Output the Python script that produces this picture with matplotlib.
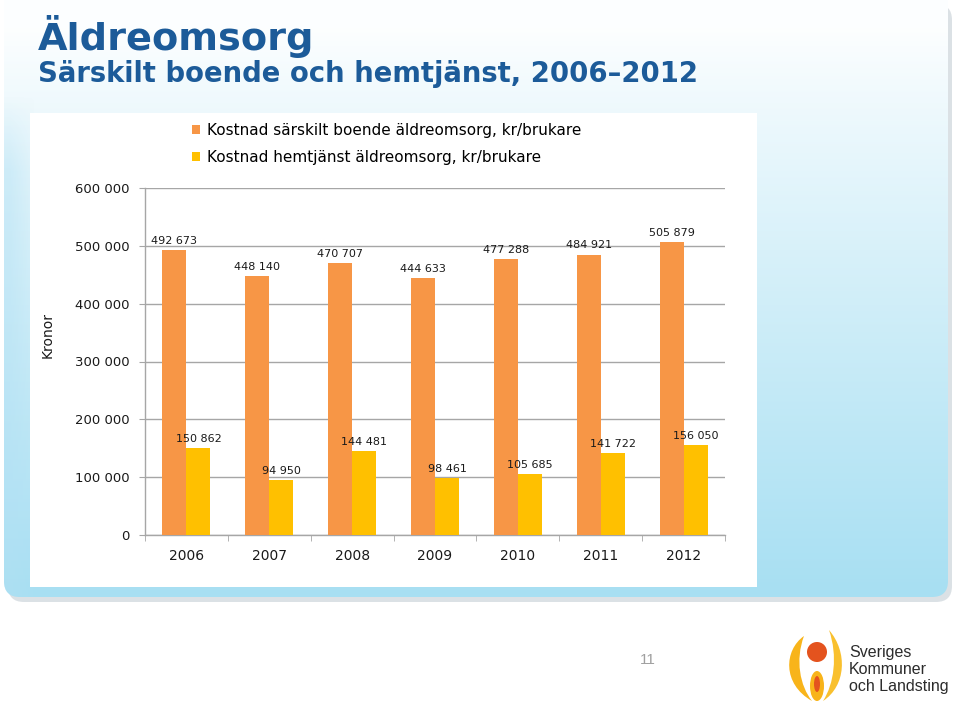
import numpy as np
import matplotlib
matplotlib.use("Agg")
import matplotlib.pyplot as plt
from matplotlib.patches import FancyBboxPatch, Rectangle, Circle, Ellipse, PathPatch
from matplotlib.path import Path
from matplotlib.ticker import FuncFormatter, MultipleLocator

years = ["2006", "2007", "2008", "2009", "2010", "2011", "2012"]
sarskilt = [492673, 448140, 470707, 444633, 477288, 484921, 505879]
hemtjanst = [150862, 94950, 144481, 98461, 105685, 141722, 156050]
series_names = ["Kostnad särskilt boende äldreomsorg, kr/brukare",
                "Kostnad hemtjänst äldreomsorg, kr/brukare"]
title = "Äldreomsorg"
subtitle = "Särskilt boende och hemtjänst, 2006–2012"
ylabel = "Kronor"
page_no = "11"
logo_lines = ["Sveriges", "Kommuner", "och Landsting"]

ORANGE = "#F79646"
YELLOW = "#FFC000"
BLUE_TITLE = "#1C5B99"
TXT = "#1a1a1a"
FONT = ["DejaVu Sans"]
LOGO_FONT = ["Liberation Sans", "DejaVu Sans"]

W, H = 960, 706
fig = plt.figure(figsize=(9.6, 7.06), dpi=100)
fig.patch.set_facecolor("white")

# ---------- background slide (pixel coordinates, y downward) ----------
bg = fig.add_axes([0, 0, 1, 1], zorder=0)
bg.set_xlim(0, W)
bg.set_ylim(H, 0)
bg.axis("off")
shadow = FancyBboxPatch((8, 4), 944, 598, boxstyle="round,pad=0,rounding_size=16",
                        facecolor="#cdd5db", edgecolor="none", alpha=0.7)
bg.add_patch(shadow)
panel = FancyBboxPatch((4, -20), 944, 617, boxstyle="round,pad=0,rounding_size=16",
                       facecolor="none", edgecolor="none")
bg.add_patch(panel)
ny = 300
t = np.linspace(0, 1, ny)[:, None]
top = np.array([0.99, 0.997, 1.0])
bot = np.array([0.655, 0.875, 0.95])
tt = np.clip((t - 0.08) / 0.92, 0, 1) ** 0.9
grad = top[None, None, :] * (1 - tt[..., None]) + bot[None, None, :] * tt[..., None]
grad = np.repeat(grad, 2, axis=1)
im = bg.imshow(grad, extent=(4, 948, 598, -20), aspect="auto", zorder=1)
im.set_clip_path(panel)
# extra tint on the left edge
nx, nyl = 40, 200
s = np.linspace(0, 1, nx)[None, :]
v = np.linspace(0, 1, nyl)[:, None]
left = np.zeros((nyl, nx, 4))
left[..., 0] = 0.70
left[..., 1] = 0.88
left[..., 2] = 0.96
left[..., 3] = np.clip(1.2 - s, 0, 1) * np.clip(v / 0.15, 0, 1) * 0.45
im2 = bg.imshow(left, extent=(4, 34, 598, 95), aspect="auto", zorder=1.5)
im2.set_clip_path(panel)
bg.add_patch(Rectangle((30, 113), 727, 474, facecolor="white", edgecolor="none", zorder=2))

# titles
bg.text(38, 50, title, fontsize=27.5, fontweight="bold", color=BLUE_TITLE,
        family=FONT, va="baseline", ha="left", zorder=3)
bg.text(38, 82, subtitle, fontsize=19.8, fontweight="bold", color=BLUE_TITLE,
        family=FONT, va="baseline", ha="left", zorder=3)

# page number
bg.text(648, 660, page_no, fontsize=11, color="#a0a0a0", family=LOGO_FONT,
        va="center", ha="center", zorder=3)

# logo
LY = "#F8B41A"
def flame(pts, color, z=3):
    codes = [Path.MOVETO, Path.CURVE4, Path.CURVE4, Path.CURVE4,
             Path.CURVE4, Path.CURVE4, Path.CURVE4, Path.CLOSEPOLY]
    bg.add_patch(PathPatch(Path(pts + [pts[0]], codes), facecolor=color,
                           edgecolor="none", zorder=z))
flame([(804, 636), (784, 650), (782, 684), (812, 701),
       (800, 686), (795, 660), (804, 636)], LY)
flame([(829, 630), (848, 652), (846, 686), (823, 701),
       (834, 684), (838, 656), (829, 630)], "#F9C02E")
bg.add_patch(Ellipse((817, 686), 14, 30, facecolor=LY, edgecolor="none", zorder=3))
bg.add_patch(Circle((817, 652), 10, facecolor="#E4531E", edgecolor="none", zorder=4))
bg.add_patch(Ellipse((817, 684), 6, 16, facecolor="#E4531E", edgecolor="none", zorder=4))
for i, line in enumerate(logo_lines):
    bg.text(849, 652 + i * 17.5, line, fontsize=11.5, color="#2b2b2b",
            family=LOGO_FONT, va="center", ha="left", zorder=3)

# ---------- chart ----------
x0, x1 = 145, 725
y0, y1 = 535, 188
ax = fig.add_axes([x0 / W, 1 - y0 / H, (x1 - x0) / W, (y0 - y1) / H], zorder=5)
ax.set_facecolor("none")
x = np.arange(len(years))
bw = 0.29
ax.bar(x - bw / 2, sarskilt, width=bw, color=ORANGE, zorder=3, label=series_names[0])
ax.bar(x + bw / 2, hemtjanst, width=bw, color=YELLOW, zorder=3, label=series_names[1])

fmt = lambda val: f"{int(val):,}".replace(",", " ")
for xi, val in zip(x, sarskilt):
    ax.annotate(fmt(val), (xi - bw / 2, val), xytext=(0, 4.5), textcoords="offset points",
                ha="center", va="baseline", fontsize=8, family=FONT, color=TXT)
for xi, val in zip(x, hemtjanst):
    ax.annotate(fmt(val), (xi + bw / 2, val), xytext=(0, 4.5), textcoords="offset points",
                ha="center", va="baseline", fontsize=8, family=FONT, color=TXT)

ax.set_xlim(-0.5, len(years) - 0.5)
ax.set_ylim(0, 600000)
ax.yaxis.set_major_locator(MultipleLocator(100000))
ax.yaxis.set_major_formatter(FuncFormatter(lambda val, p: fmt(val)))
ax.grid(axis="y", color="#a6a6a6", linewidth=1, zorder=0)
ax.set_axisbelow(True)
ax.set_xticks(x)
ax.set_xticklabels(years)
ax.set_xticks(np.arange(-0.5, len(years)), minor=True)
ax.tick_params(axis="x", which="major", length=0, pad=10, labelsize=10)
ax.tick_params(axis="x", which="minor", length=4, color="#a6a6a6", direction="out")
ax.tick_params(axis="y", length=4, color="#a6a6a6", pad=7, labelsize=9.5)
for lab in ax.get_xticklabels() + ax.get_yticklabels():
    lab.set_family(FONT)
    lab.set_color(TXT)
for side in ["top", "right"]:
    ax.spines[side].set_visible(False)
for side in ["left", "bottom"]:
    ax.spines[side].set_color("#a6a6a6")
    ax.spines[side].set_linewidth(1)
ax.set_ylabel(ylabel, fontsize=10, family=FONT, color=TXT)
ax.yaxis.set_label_coords(-0.155, 0.577)

ax.legend(loc="upper left", bbox_to_anchor=(192 / W, 1 - 123 / H),
          bbox_transform=fig.transFigure, frameon=False,
          prop={"family": FONT, "size": 11}, handlelength=0.55, handleheight=0.55,
          handletextpad=0.45, labelspacing=0.78, borderaxespad=0, borderpad=0)

fig.savefig("out.png", dpi=100)
